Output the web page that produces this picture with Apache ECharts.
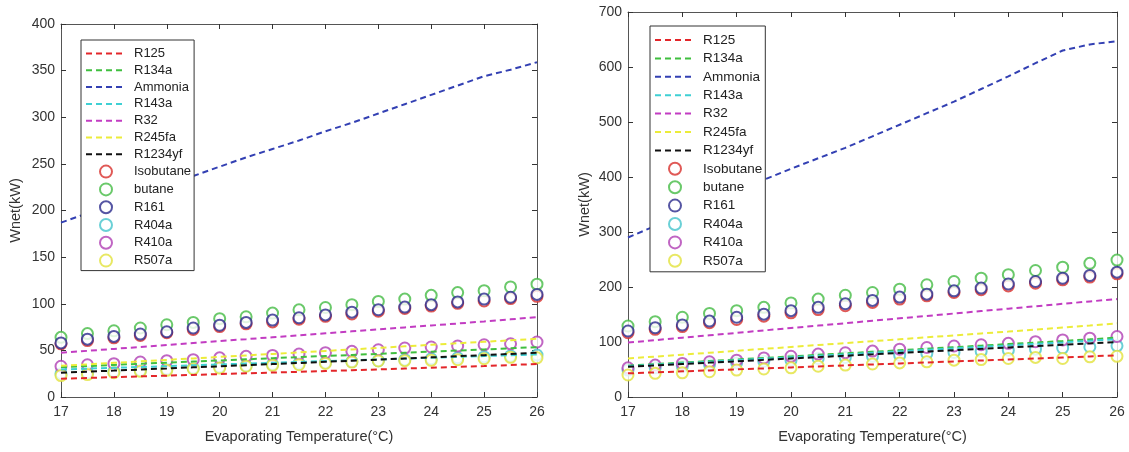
<!DOCTYPE html>
<html>
<head>
<meta charset="utf-8">
<style>
  html, body { margin: 0; padding: 0; background: #fff; }
  #main { width: 1129px; height: 452px; }
</style>
<script src="https://cdn.jsdelivr.net/npm/echarts@6/dist/echarts.min.js"></script>
</head>
<body>
<div id="main"></div>
<script>
// evaporating temperature, 17 .. 26 step 0.5
var temps = [17, 17.5, 18, 18.5, 19, 19.5, 20, 20.5, 21, 21.5, 22, 22.5, 23, 23.5, 24, 24.5, 25, 25.5, 26];

var lineNames = ['R125', 'R134a', 'Ammonia', 'R143a', 'R32', 'R245fa', 'R1234yf'];
var circleNames = ['Isobutane', 'butane', 'R161', 'R404a', 'R410a', 'R507a'];

// left panel - dashed lines
var leftR125    = [19.6, 20.4, 21.3, 22.1, 22.9, 23.7, 24.6, 25.4, 26.2, 27.0, 27.9, 28.7, 29.6, 30.5, 31.4, 32.3, 33.2, 34.3, 35.4];
var leftR134a   = [32, 33.2, 34.4, 35.6, 36.8, 38, 39.2, 40.4, 41.6, 42.8, 44, 45.1, 46.3, 47.5, 48.6, 49.8, 51, 52.2, 53.5];
var leftAmmonia = [187, 197, 207, 217, 227, 237, 247, 257, 266, 275, 285, 294, 304, 314, 324, 334, 344, 351, 359];
var leftR143a   = [29.5, 30.4, 31.3, 32.2, 33.1, 34, 34.9, 35.8, 36.7, 37.6, 38.5, 39.4, 40.3, 41.2, 42.1, 43, 43.9, 44.8, 45.7];
var leftR32     = [47.5, 49.5, 51.6, 53.7, 55.8, 57.9, 60, 62, 64.1, 66.2, 68.3, 70.4, 72.5, 74.6, 76.7, 78.8, 81, 83.3, 85.6];
var leftR245fa  = [33.5, 35, 36.6, 38.2, 39.8, 41.4, 43, 44.6, 46.2, 47.8, 49.4, 51, 52.6, 54.3, 56, 57.6, 59.2, 60.8, 62.4];
var leftR1234yf = [26, 27.2, 28.3, 29.5, 30.6, 31.8, 32.9, 34.1, 35.3, 36.5, 37.7, 38.9, 40.1, 41.3, 42.5, 43.7, 44.9, 46.2, 47.5];

// left panel - circles
var leftIsobutane = [57, 60.5, 63.5, 66, 69, 72.5, 75.5, 78.5, 80.5, 83.5, 86.5, 89, 92, 95, 97.5, 100.5, 103, 105.5, 108];
var leftButane    = [64, 68, 71, 74, 77.5, 80, 84, 86, 90, 93.5, 96, 99, 102.5, 105, 109, 112, 114, 118, 121];
var leftR161      = [58, 62, 65, 67.5, 70, 74, 77, 80, 82.5, 85, 88, 91, 93.6, 96.4, 99, 102, 105, 107, 110];
var leftR404a     = [25, 26, 27.5, 28.5, 30, 31, 32.5, 33.5, 35, 36, 37, 38, 39, 40, 41, 42, 43, 44, 45];
var leftR410a     = [33, 34.6, 35.7, 37.5, 39, 40, 42, 43.6, 44.6, 46, 47.5, 49, 50.7, 52.5, 53.6, 54.6, 56, 57, 59];
var leftR507a     = [23, 24, 26, 27.5, 28.6, 30, 31, 33, 34, 34.6, 36, 37.5, 38.6, 39, 39.3, 40, 41, 42.5, 42];

// right panel - dashed lines
var rightR125    = [43, 44.8, 46.6, 48.4, 50.2, 52, 53.8, 55.6, 57.4, 59.2, 61, 62.8, 64.6, 66.4, 68.2, 70, 71.9, 73.8, 75.8];
var rightR134a   = [57, 59.8, 62.6, 65.4, 68.2, 71, 73.8, 76.6, 79.4, 82.2, 85, 87.8, 90.6, 93.4, 96.2, 99, 101.8, 104.8, 108];
var rightAmmonia = [290, 311, 332, 353, 374, 395, 415, 434, 453, 474, 495, 516, 537, 560, 583, 607, 630, 641, 647];
var rightR143a   = [56, 58.7, 61.4, 64.1, 66.8, 69.5, 72.2, 74.9, 77.6, 80.3, 83, 85.7, 88.4, 91.1, 93.8, 96.5, 99.3, 102.2, 105];
var rightR32     = [99, 103.4, 107.8, 112.2, 116.6, 121, 125.4, 129.8, 134.2, 138.6, 143, 147.4, 151.8, 156.2, 160.6, 165, 169.4, 173.8, 178];
var rightR245fa  = [70, 73.5, 77, 80.5, 84, 87.5, 91, 94.5, 98, 101.5, 105, 108.5, 112, 115.5, 119, 122.6, 126.3, 130, 134];
var rightR1234yf = [55, 57.5, 60, 62.5, 65, 67.5, 70, 72.5, 75, 77.5, 80, 82.5, 85, 87.5, 90, 92.5, 95, 97.5, 100];

// right panel - circles
var rightIsobutane = [117, 123, 128, 135, 141, 147, 153, 159, 166, 172, 178, 184, 190, 195, 202, 207, 213, 218, 224];
var rightButane    = [129, 137, 145, 152, 157, 163, 171, 178, 185, 190, 196, 204, 210, 216, 222.5, 230, 236, 243, 249];
var rightR161      = [120, 126, 131, 138, 145, 150.6, 157, 163, 169.5, 175.6, 181.7, 187, 193, 198, 205.5, 210, 216, 221, 227];
var rightR404a     = [49, 53, 56, 59, 62, 65, 67, 70, 72, 74, 76, 79, 81, 83, 85, 87, 89, 91, 93];
var rightR410a     = [53, 58, 61, 64, 67, 71, 74, 78, 80.5, 83.5, 87, 90, 92.7, 95, 97.6, 100.6, 103.7, 107, 110];
var rightR507a     = [40, 43, 44, 46, 49, 51, 53, 56, 58, 60, 62, 64, 67, 68, 70, 72, 70, 73, 74];

var lineColors = ['#e3262a', '#3fbf3f', '#3340b3', '#3fd0d4', '#c23cc2', '#ecec3a', '#111111'];
var circleColors = ['#d8302c', '#45bb45', '#2a2a8c', '#45c4cc', '#b03eb4', '#e2e23c'];

var leftLines = [leftR125, leftR134a, leftAmmonia, leftR143a, leftR32, leftR245fa, leftR1234yf];
var leftCircles = [leftIsobutane, leftButane, leftR161, leftR404a, leftR410a, leftR507a];
var rightLines = [rightR125, rightR134a, rightAmmonia, rightR143a, rightR32, rightR245fa, rightR1234yf];
var rightCircles = [rightIsobutane, rightButane, rightR161, rightR404a, rightR410a, rightR507a];

var FONT = 'Liberation Sans, Arial, sans-serif';

function pairs(vals) {
  return temps.map(function (t, i) { return [t, vals[i]]; });
}

function buildSeries(lines, circles, idx) {
  var out = [];
  lines.forEach(function (vals, i) {
    out.push({
      name: lineNames[i],
      type: 'line',
      xAxisIndex: idx,
      yAxisIndex: idx,
      symbol: 'none',
      silent: true,
      color: lineColors[i],
      lineStyle: { color: lineColors[i], width: 2, type: [6, 4] },
      data: pairs(vals)
    });
  });
  circles.forEach(function (vals, i) {
    out.push({
      name: circleNames[i],
      type: 'scatter',
      xAxisIndex: idx,
      yAxisIndex: idx,
      symbol: 'emptyCircle',
      symbolSize: 11,
      silent: true,
      color: circleColors[i],
      itemStyle: { borderColor: circleColors[i], borderWidth: 2 },
      data: pairs(vals)
    });
  });
  return out;
}

function xAx(gi, pos, showLabel, showName) {
  return {
    type: 'value', gridIndex: gi, position: pos,
    min: 17, max: 26, interval: 1,
    name: showName ? 'Evaporating Temperature(°C)' : '',
    nameLocation: 'middle', nameGap: 32,
    nameTextStyle: { color: '#333', fontSize: 14.5, fontFamily: FONT },
    axisLine: { show: true, onZero: false, lineStyle: { color: '#555', width: 1 } },
    axisTick: { show: true, inside: true, length: 5, lineStyle: { color: '#333' } },
    axisLabel: { show: showLabel, color: '#333', fontSize: 14, fontFamily: FONT, margin: 8 },
    splitLine: { show: false }
  };
}

function yAx(gi, pos, max, step, showLabel, showName, gap) {
  return {
    type: 'value', gridIndex: gi, position: pos,
    min: 0, max: max, interval: step,
    name: showName ? 'Wnet(kW)' : '',
    nameLocation: 'middle', nameGap: gap, nameRotate: 90,
    nameTextStyle: { color: '#333', fontSize: 14.5, fontFamily: FONT },
    axisLine: { show: true, onZero: false, lineStyle: { color: '#555', width: 1 } },
    axisTick: { show: true, inside: true, length: 5, lineStyle: { color: '#333' } },
    axisLabel: { show: showLabel, color: '#333', fontSize: 14, fontFamily: FONT, margin: 6 },
    splitLine: { show: false }
  };
}

// dashed-line entries get no marker in the legend
function legendData() {
  var items = lineNames.map(function (n) {
    return { name: n, itemStyle: { opacity: 0 } };
  });
  return items.concat(circleNames.map(function (n) { return { name: n }; }));
}

function legendAt(left, top, gap, fs, pad) {
  return {
    orient: 'vertical',
    left: left, top: top,
    data: legendData(),
    itemWidth: 40, itemHeight: 12, itemGap: gap,
    padding: pad,
    borderColor: '#333', borderWidth: 1,
    backgroundColor: '#fff',
    selectedMode: false,
    textStyle: { color: '#222', fontSize: fs, fontFamily: FONT, padding: [0, 0, 0, 3] }
  };
}

var chart = echarts.init(document.getElementById('main'));
chart.setOption({
  animation: false,
  backgroundColor: '#fff',
  legend: [
    legendAt(81, 40, 3.8, 13, [7, 3, 3, 4]),
    legendAt(650, 26, 4.4, 13.5, [7, 3, 4, 4])
  ],
  grid: [
    { left: 61, top: 24, width: 476, height: 373 },
    { left: 628, top: 12, width: 489, height: 385 }
  ],
  xAxis: [
    xAx(0, 'bottom', true, true),
    xAx(1, 'bottom', true, true),
    xAx(0, 'top', false, false),
    xAx(1, 'top', false, false)
  ],
  yAxis: [
    yAx(0, 'left', 400, 50, true, true, 38),
    yAx(1, 'left', 700, 100, true, true, 36),
    yAx(0, 'right', 400, 50, false, false, 0),
    yAx(1, 'right', 700, 100, false, false, 0)
  ],
  series: buildSeries(leftLines, leftCircles, 0).concat(buildSeries(rightLines, rightCircles, 1))
});
</script>
</body>
</html>
